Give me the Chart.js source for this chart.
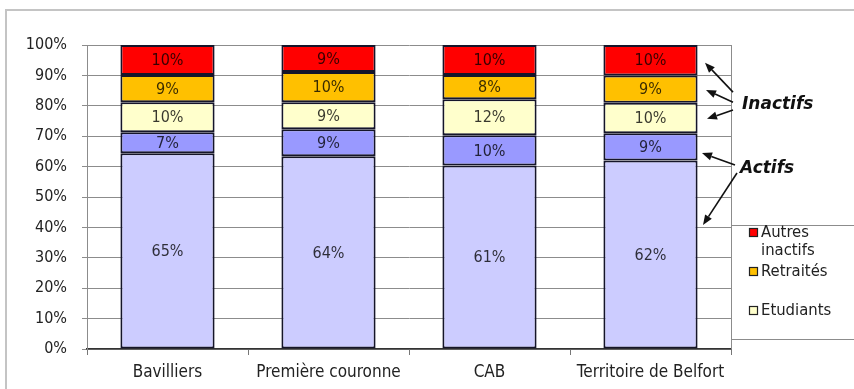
<!DOCTYPE html>
<html><head><meta charset="utf-8">
<script src="https://cdn.jsdelivr.net/npm/chart.js@4"></script>
<style>html,body{margin:0;padding:0;background:#fff;overflow:hidden}canvas{display:block}</style>
</head><body>
<canvas id="c" width="854" height="389"></canvas>
<script>
const categories = ['Bavilliers', 'Première couronne', 'CAB', 'Territoire de Belfort'];
const actifsOccupes = [65, 64, 61, 62];
const chomeurs = [7, 9, 10, 9];
const etudiants = [10, 9, 12, 10];
const retraites = [9, 10, 8, 9];
const autresInactifs = [10, 9, 10, 10];
const yTickValues = [0, 10, 20, 30, 40, 50, 60, 70, 80, 90, 100];

const seriesNames = ['Actifs occupés', 'Chômeurs', 'Etudiants', 'Retraités', 'Autres inactifs'];
const seriesValues = [actifsOccupes, chomeurs, etudiants, retraites, autresInactifs];
const seriesColors = ['#CCCCFF', '#9999FF', '#FFFFCC', '#FFC000', '#FF0000'];
const legendShown = ['Autres inactifs', 'Retraités', 'Etudiants'];

const totals = categories.map((_, i) => seriesValues.reduce((s, a) => s + a[i], 0));
const FONT = "'DejaVu Sans Condensed', 'Liberation Sans', sans-serif";

const datasets = seriesNames.map((name, k) => ({
  label: name,
  data: seriesValues[k].map((v, i) => v / totals[i] * 100),
  raw: seriesValues[k],
  backgroundColor: seriesColors[k],
  borderColor: '#15152a',
  borderWidth: 2,
  borderSkipped: false,
  barPercentage: 0.585,
  categoryPercentage: 1.0
}));

const decor = {
  id: 'decor',
  beforeDraw(chart) {
    const ctx = chart.ctx;
    ctx.save();
    ctx.fillStyle = '#fff';
    ctx.fillRect(0, 0, chart.width, chart.height);
    ctx.strokeStyle = '#c4c4c4';
    ctx.lineWidth = 2;
    ctx.beginPath();
    ctx.moveTo(6, chart.height);
    ctx.lineTo(6, 10);
    ctx.lineTo(chart.width, 10);
    ctx.stroke();
    ctx.restore();
  },
  afterDatasetsDraw(chart) {
    const ctx = chart.ctx;
    const ca = chart.chartArea;
    const y = chart.scales.y;
    ctx.save();
    ctx.strokeStyle = '#8c8c8c';
    ctx.lineWidth = 1;
    ctx.beginPath();
    ctx.moveTo(ca.right + 0.5, ca.top);
    ctx.lineTo(ca.right + 0.5, ca.bottom);
    ctx.stroke();

    ctx.font = '16px ' + FONT;
    ctx.textAlign = 'center';
    ctx.textBaseline = 'middle';
    ctx.fillStyle = 'rgba(0,0,0,0.78)';
    chart.data.datasets.forEach((ds, k) => {
      const meta = chart.getDatasetMeta(k);
      meta.data.forEach((el, i) => {
        const cy = (el.y + el.base) / 2;
        ctx.fillText(ds.raw[i] + '%', el.x, cy + 1);
      });
    });

    const lx = ca.right, ly = 225, lh = 114;
    ctx.fillStyle = '#fff';
    ctx.fillRect(lx, ly, chart.width - lx + 2, lh);
    ctx.strokeStyle = '#8c8c8c';
    ctx.lineWidth = 1;
    ctx.strokeRect(lx + 0.5, ly + 0.5, chart.width - lx + 5, lh);
    ctx.font = '16.5px ' + FONT;
    ctx.textAlign = 'left';
    ctx.textBaseline = 'middle';
    legendShown.forEach((name, j) => {
      const k = seriesNames.indexOf(name);
      const iy = ly + 8 + j * 39;
      const sx = lx + 18;
      ctx.fillStyle = seriesColors[k];
      ctx.fillRect(sx, iy - 5, 9, 9);
      ctx.strokeStyle = '#222';
      ctx.lineWidth = 1.2;
      ctx.strokeRect(sx + 0.5, iy - 4.5, 8, 8);
      ctx.fillStyle = '#222';
      const maxW = chart.width - (sx + 13) - 2;
      const words = name.split(' ');
      const lines = [];
      let cur = '';
      words.forEach(w => {
        const t = cur ? cur + ' ' + w : w;
        if (ctx.measureText(t).width > maxW && cur) { lines.push(cur); cur = w; } else cur = t;
      });
      lines.push(cur);
      lines.forEach((ln, m) => ctx.fillText(ln, sx + 12, iy + m * 18));
    });

    const R = ca.right;
    const arrow = (x1, v1, x2, v2) => {
      const a = R + x1, b = y.getPixelForValue(v1), c = R + x2, d = y.getPixelForValue(v2);
      const ang = Math.atan2(d - b, c - a);
      const L = 10, W = 4;
      const bx = c - L * Math.cos(ang), by = d - L * Math.sin(ang);
      ctx.strokeStyle = '#111';
      ctx.fillStyle = '#111';
      ctx.lineWidth = 1.6;
      ctx.beginPath(); ctx.moveTo(a, b); ctx.lineTo(bx, by); ctx.stroke();
      ctx.beginPath();
      ctx.moveTo(c, d);
      ctx.lineTo(bx + W * Math.sin(ang), by - W * Math.cos(ang));
      ctx.lineTo(bx - W * Math.sin(ang), by + W * Math.cos(ang));
      ctx.closePath(); ctx.fill();
    };
    arrow(2, 84.5, -26, 94.2);
    arrow(2, 81.2, -25, 85.2);
    arrow(2, 78.6, -24, 75.7);
    arrow(4, 60.5, -29, 64.5);
    arrow(6, 57.9, -28, 40.8);
    ctx.font = "italic bold 17px 'DejaVu Sans', sans-serif";
    ctx.fillStyle = '#111';
    ctx.textAlign = 'left';
    ctx.fillText('Inactifs', R + 11, y.getPixelForValue(80.3));
    ctx.fillText('Actifs', R + 9, y.getPixelForValue(59.5));
    ctx.restore();
  }
};

new Chart(document.getElementById('c'), {
  type: 'bar',
  data: { labels: categories, datasets },
  plugins: [decor],
  options: {
    responsive: false,
    animation: false,
    devicePixelRatio: 1,
    layout: { padding: { top: 45, right: 123, left: 0, bottom: 0 } },
    plugins: { legend: { display: false }, tooltip: { enabled: false }, title: { display: false } },
    scales: {
      x: {
        stacked: true,
        afterFit(s) { s.height = 40; },
        grid: { offset: true, drawOnChartArea: false, drawTicks: true, tickLength: 6, color: '#777' },
        border: { color: '#333', width: 1.5 },
        ticks: { color: '#222', font: { size: 17, family: FONT }, padding: 7, maxRotation: 0 }
      },
      y: {
        stacked: true,
        min: 0, max: 100,
        afterFit(s) { s.width = 87; },
        afterBuildTicks(s) { s.ticks = yTickValues.map(v => ({ value: v })); },
        grid: { color: '#8c8c8c', lineWidth: 1, tickLength: 5, drawTicks: true },
        border: { color: '#8c8c8c', width: 1 },
        ticks: { color: '#222', font: { size: 16, family: FONT }, padding: 15, callback: v => v + '%' }
      }
    }
  }
});
</script>
</body></html>
